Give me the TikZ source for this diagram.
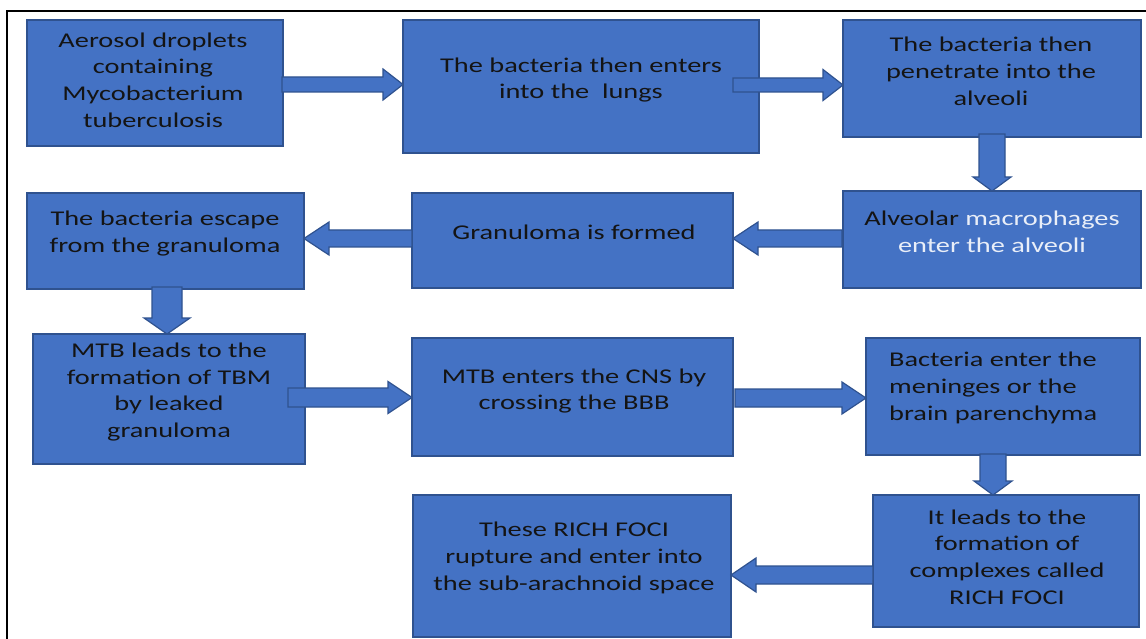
\documentclass[tikz,border=0pt]{standalone}
\usepackage{fontspec}
\setmainfont{Carlito}[FakeStretch=1.35]
\usetikzlibrary{calc,fit}
\definecolor{boxblue}{HTML}{4472C4}
\definecolor{boxedge}{HTML}{2F528F}
\definecolor{txtdark}{HTML}{141414}
\definecolor{txtlight}{HTML}{E9EEF8}
% right block arrow: from, to, y, overlap, half shaft, half head, head length
\newcommand\blkright[7]{%
  \filldraw[arr] ($(#1.east |- 0,#3)+(-#4,-#5)$) -- ($(#2.west |- 0,#3)+(-#7,-#5)$)
   -- ($(#2.west |- 0,#3)+(-#7,-#6)$) -- (#2.west |- 0,#3)
   -- ($(#2.west |- 0,#3)+(-#7,#6)$) -- ($(#2.west |- 0,#3)+(-#7,#5)$)
   -- ($(#1.east |- 0,#3)+(-#4,#5)$) -- cycle;}
\newcommand\blkleft[7]{%
  \filldraw[arr] ($(#1.west |- 0,#3)+(#4,-#5)$) -- ($(#2.east |- 0,#3)+(#7,-#5)$)
   -- ($(#2.east |- 0,#3)+(#7,-#6)$) -- (#2.east |- 0,#3)
   -- ($(#2.east |- 0,#3)+(#7,#6)$) -- ($(#2.east |- 0,#3)+(#7,#5)$)
   -- ($(#1.west |- 0,#3)+(#4,#5)$) -- cycle;}
\newcommand\blkdown[7]{%
  \filldraw[arr] ($(#3,0 |- #1.south)+(-#5,-#4)$) -- ($(#3,0 |- #2.north)+(-#5,-#7)$)
   -- ($(#3,0 |- #2.north)+(-#6,-#7)$) -- (#3,0 |- #2.north)
   -- ($(#3,0 |- #2.north)+(#6,-#7)$) -- ($(#3,0 |- #2.north)+(#5,-#7)$)
   -- ($(#3,0 |- #1.south)+(#5,-#4)$) -- cycle;}
\begin{document}
\begin{tikzpicture}[x=1pt,y=-1pt,
  box/.style={draw=boxedge, fill=boxblue, line width=1.5pt, inner sep=0pt, outer sep=0pt, rectangle},
  txt/.style={align=center, inner sep=0pt, text=txtdark, font=\fontsize{21}{26.8}\selectfont},
  arr/.style={draw=boxedge, fill=boxblue, line width=1.2pt, line join=miter}]
\useasboundingbox (0,0) rectangle (1146,639);
\fill[white] (0,0) rectangle (1146,639);
\draw[line width=2.5pt] (1146,11) -- (7,11) -- (7,640);
% boxes
\node[box, fit={(27,20)(283,146)}] (A) {};
\node[box, fit={(403,20)(759,153)}] (B) {};
\node[box, fit={(843,20)(1141,137)}] (C) {};
\node[box, fit={(843,191)(1141,288)}] (D) {};
\node[box, fit={(412,193)(733,288)}] (E) {};
\node[box, fit={(27,193)(304,289)}] (F) {};
\node[box, fit={(33,334)(305,464)}] (G) {};
\node[box, fit={(412,338)(733,456)}] (H) {};
\node[box, fit={(866,338)(1140,455)}] (I) {};
\node[box, fit={(873,495)(1139,627)}] (J) {};
\node[box, fit={(413,495)(731,637)}] (K) {};
% texts
\node[txt] (At) at (153,80) {Aerosol droplets\\containing\\Mycobacterium\\tuberculosis};
\node[txt] (Bt) at (581,80) {The bacteria then enters\\into the~ lungs};
\node[txt] (Ct) at (991,71) {The bacteria then\\penetrate into the\\alveoli};
\node[txt] (Dt) at (992,232) {Alveolar \textcolor{txtlight}{macrophages}\\\textcolor{txtlight}{enter the alveoli}};
\node[txt] (Et) at (574,232) {Granuloma is formed};
\node[txt] (Ft) at (165,233.5) {The bacteria escape\\from the granuloma};
\node[txt] (Gt) at (169,392) {MTB leads to the\\formation of TBM\\by leaked\\granuloma};
\node[txt] (Ht) at (574,391) {MTB enters the CNS by\\crossing the BBB};
\node[txt, align=left, anchor=west] (It) at (889,388) {Bacteria enter the\\meninges or the\\brain parenchyma};
\node[txt] (Jt) at (1007,557) {It leads to the\\formation of\\complexes called\\RICH FOCI};
\node[txt] (Kt) at (574,558) {These RICH FOCI\\rupture and enter into\\the sub-arachnoid space};
% arrows
\blkright{A}{B}{84.5}{1}{7.5}{15.5}{20}
\blkright{B}{C}{85}{26}{7}{15.5}{20}
\blkdown{C}{D}{992}{3}{13}{19}{14}
\blkleft{D}{E}{238.5}{-1}{8.5}{16.5}{25}
\blkleft{E}{F}{238.5}{0}{8.5}{16.5}{25}
\blkdown{F}{G}{167}{2}{15}{23}{16}
\blkright{G}{H}{397.5}{17}{9.5}{16}{24}
\blkright{H}{I}{398}{-2}{9}{16}{24}
\blkdown{I}{J}{993}{1}{13}{19}{14}
\blkleft{J}{K}{575}{0}{9}{17}{25}
\end{tikzpicture}
\end{document}
